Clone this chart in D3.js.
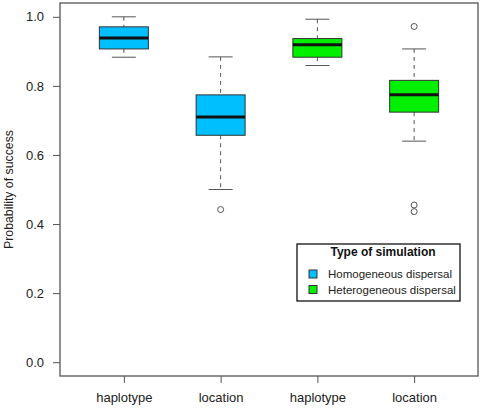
<!DOCTYPE html>
<html><head><meta charset="utf-8">
<script src="https://d3js.org/d3.v7.min.js"></script>
<style>body{margin:0;background:#fff}svg{display:block;font-family:"Liberation Sans",Arial,Helvetica,sans-serif}</style>
</head><body>
<script>
const categories = ["haplotype","location","haplotype","location"];
const groups = ["Homogeneous dispersal","Homogeneous dispersal","Heterogeneous dispersal","Heterogeneous dispersal"];
const whiskerLow = [0.883,0.500,0.859,0.640];
const q1 = [0.907,0.657,0.883,0.724];
const median = [0.939,0.710,0.919,0.774];
const q3 = [0.971,0.774,0.937,0.816];
const whiskerHigh = [1.000,0.884,0.993,0.907];
const outliers = [[],[0.442],[],[0.972,0.455,0.436]];
const yTicks = [0,0.2,0.4,0.6,0.8,1.0];
const legendLabels = ["Homogeneous dispersal","Heterogeneous dispersal"];
const legendColors = ["#00BFFF","#00F000"];

(function(){
const colorOf = d3.scaleOrdinal().domain(legendLabels).range(legendColors);
const W=480,H=408;
const svg=d3.select("body").append("svg").attr("width",W).attr("height",H);
const pL=60,pR=478,pT=3,pB=376;
const x=d3.scaleLinear().domain([0.34,4.66]).range([pL,pR]);
const y=d3.scaleLinear().domain([-0.04,1.04]).range([pB,pT]);
const boxW=49, capW=24;

const yAxis=d3.axisLeft(y).tickValues(yTicks).tickFormat(d3.format(".1f")).tickSize(7).tickPadding(9);
const gy=svg.append("g").attr("transform",`translate(${pL},0)`).call(yAxis);
gy.select(".domain").remove();
gy.selectAll("line").attr("stroke","#555");
gy.selectAll("text").attr("font-size",13).attr("fill","#222");

const xAxis=d3.axisBottom(x).tickValues([1,2,3,4]).tickFormat((d,i)=>categories[i]).tickSize(7).tickPadding(10);
const gx=svg.append("g").attr("transform",`translate(0,${pB})`).call(xAxis);
gx.select(".domain").remove();
gx.selectAll("line").attr("stroke","#555");
gx.selectAll("text").attr("font-size",13).attr("fill","#222");

svg.append("text").attr("transform",`translate(13,${(pT+pB)/2}) rotate(-90)`)
  .attr("text-anchor","middle").attr("font-size",12.3).attr("fill","#222").text("Probability of success");

const data=categories.map((c,i)=>({i,c,g:groups[i],lo:whiskerLow[i],q1:q1[i],m:median[i],q3:q3[i],hi:whiskerHigh[i],out:outliers[i]}));
const bx=svg.append("g").selectAll("g").data(data).join("g");
bx.append("line").attr("x1",d=>x(d.i+1)).attr("x2",d=>x(d.i+1)).attr("y1",d=>y(d.hi)).attr("y2",d=>y(d.q3))
  .attr("stroke","#555").attr("stroke-dasharray","4,4");
bx.append("line").attr("x1",d=>x(d.i+1)).attr("x2",d=>x(d.i+1)).attr("y1",d=>y(d.q1)).attr("y2",d=>y(d.lo))
  .attr("stroke","#555").attr("stroke-dasharray","4,4");
bx.append("line").attr("x1",d=>x(d.i+1)-capW/2).attr("x2",d=>x(d.i+1)+capW/2).attr("y1",d=>y(d.hi)).attr("y2",d=>y(d.hi)).attr("stroke","#555");
bx.append("line").attr("x1",d=>x(d.i+1)-capW/2).attr("x2",d=>x(d.i+1)+capW/2).attr("y1",d=>y(d.lo)).attr("y2",d=>y(d.lo)).attr("stroke","#555");
bx.append("rect").attr("x",d=>x(d.i+1)-boxW/2).attr("width",boxW).attr("y",d=>y(d.q3)).attr("height",d=>y(d.q1)-y(d.q3))
  .attr("fill",d=>colorOf(d.g)).attr("stroke","#333");
bx.append("line").attr("x1",d=>x(d.i+1)-boxW/2).attr("x2",d=>x(d.i+1)+boxW/2).attr("y1",d=>y(d.m)).attr("y2",d=>y(d.m))
  .attr("stroke","#111").attr("stroke-width",3);
bx.selectAll("circle").data(d=>d.out.map(v=>({i:d.i,v}))).join("circle")
  .attr("cx",d=>x(d.i+1)).attr("cy",d=>y(d.v)).attr("r",3).attr("fill","none").attr("stroke","#555");

svg.append("rect").attr("x",pL).attr("y",pT).attr("width",pR-pL).attr("height",pB-pT)
  .attr("fill","none").attr("stroke","#555").attr("stroke-width",1.3);

const lg=svg.append("g");
lg.append("rect").attr("x",297).attr("y",244).attr("width",163).attr("height",57).attr("fill","#fff").attr("stroke","#111").attr("stroke-width",1.3);
lg.append("text").attr("x",383).attr("y",256).attr("text-anchor","middle").attr("font-size",12).attr("font-weight","bold").attr("fill","#111").text("Type of simulation");
const li=lg.selectAll("g.item").data(legendLabels).join("g").attr("class","item").attr("transform",(d,i)=>`translate(0,${274+i*15.5})`);
li.append("rect").attr("x",309).attr("y",-4).attr("width",8).attr("height",8).attr("fill",d=>colorOf(d)).attr("stroke","#333");
li.append("text").attr("x",328).attr("y",4.2).attr("font-size",11.5).attr("fill","#222").text(d=>d);
})();
</script>
</body></html>
